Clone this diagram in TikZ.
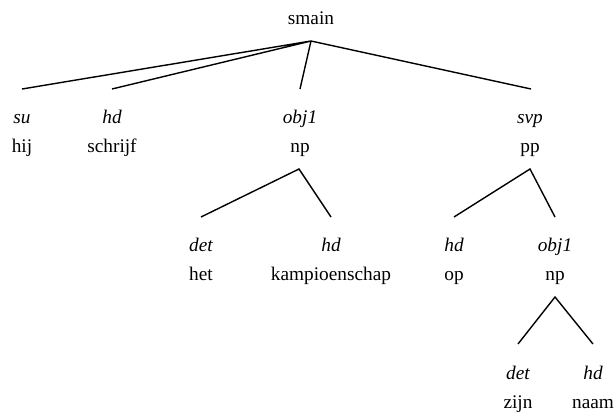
\documentclass[tikz,border=0pt]{standalone}
\usepackage{fontspec}
\setmainfont{Liberation Serif}
\begin{document}
\begin{tikzpicture}[x=1pt,y=-1pt,
  word/.style={anchor=base,inner sep=0pt,font=\fontsize{19.3}{23}\selectfont},
  rel/.style={anchor=base,inner sep=0pt,font=\fontsize{19.3}{23}\selectfont\itshape},
  edge/.style={line width=1.4pt,line join=miter}]
\useasboundingbox (0,0) rectangle (614,415);
% root
\node[word] (smain) at (311,24) {smain};
\coordinate (smainA) at (311,41);
% level 1
\coordinate (suT) at (22,89);
\coordinate (hdT) at (112,89);
\coordinate (objT) at (300,89);
\coordinate (svpT) at (531,89);
\node[rel] (su) at (22,123) {su};
\node[rel] (hd) at (112,123) {hd};
\node[rel] (obj) at (300,123) {obj1};
\node[rel] (svp) at (530,123) {svp};
\node[word] (hij) at (22,152) {hij};
\node[word] (schrijf) at (112,152) {schrijf};
\node[word] (np1) at (300,152) {np};
\node[word] (pp) at (530,152) {pp};
\draw[edge] (suT) -- (smainA) -- (hdT);
\draw[edge] (smainA) -- (objT);
\draw[edge] (smainA) -- (svpT);
% np subtree
\coordinate (np1A) at (299,169);
\coordinate (detT) at (201,217);
\coordinate (hdbT) at (331,217);
\node[rel] (det) at (201,251) {det};
\node[rel] (hdb) at (331,251) {hd};
\node[word] (het) at (201,280) {het};
\node[word] (kamp) at (331,280) {kampioenschap};
\draw[edge] (detT) -- (np1A) -- (hdbT);
% pp subtree
\coordinate (ppA) at (530,169);
\coordinate (hdcT) at (454,217);
\coordinate (objcT) at (555,217);
\node[rel] (hdc) at (454,251) {hd};
\node[rel] (objc) at (555,251) {obj1};
\node[word] (op) at (454,280) {op};
\node[word] (np2) at (555,280) {np};
\draw[edge] (hdcT) -- (ppA) -- (objcT);
% np2 subtree
\coordinate (np2A) at (555,297);
\coordinate (detdT) at (518,344);
\coordinate (hddT) at (593,344);
\node[rel] (detd) at (518,379) {det};
\node[rel] (hdd) at (593,379) {hd};
\node[word] (zijn) at (518,408) {zijn};
\node[word] (naam) at (593,408) {naam};
\draw[edge] (detdT) -- (np2A) -- (hddT);
\end{tikzpicture}
\end{document}
